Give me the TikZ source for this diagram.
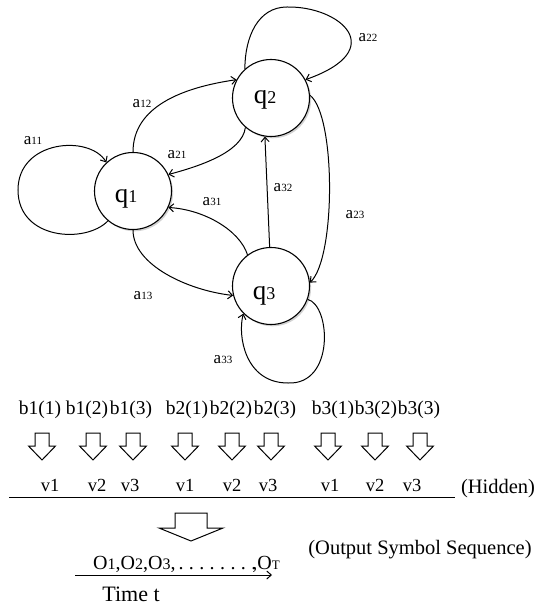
\documentclass[tikz,border=0pt]{standalone}
\usepackage{fontspec}
\setmainfont{Liberation Serif}
\usetikzlibrary{arrows.meta,shadows}
\newcommand\mysz[1]{\fontsize{#1}{#1}\selectfont}
\newcommand\alab[1]{{\mysz{17}a}{\mysz{11}#1}}
\newcommand\qlab[1]{{\mysz{27}q}{\mysz{18}#1}}
\begin{document}
\begin{tikzpicture}[x=1pt,y=-1pt,
  >={Straight Barb[length=4.5pt,width=8pt]},
  state/.style={circle,draw,line width=1.1pt,fill=white,minimum size=77pt,inner sep=0pt,
    drop shadow={shadow xshift=1.6pt,shadow yshift=-1.8pt,opacity=0.35}},
  edge/.style={->,line width=1pt},
  txt/.style={inner sep=0pt},
  blk/.style={draw,line width=1pt,line join=miter},
  downarrow/.pic={\draw[blk] (-7,0) -- (7,0) -- (7,13) -- (13.5,13) -- (0,27) -- (-13.5,13) -- (-7,13) -- cycle;}
]
\useasboundingbox (0,0) rectangle (542,612);
\fill[white] (0,0) rectangle (542,612);

% states
\node[state] (q1) at (133,191) {};
\node[state] (q2) at (271,98) {};
\node[state] (q3) at (271,286) {};
\node[txt,anchor=base] (q1t) at (126,203) {\qlab{1}};
\node[txt,anchor=base] (q2t) at (265,104) {\qlab{2}};
\node[txt,anchor=base] (q3t) at (264,299) {\qlab{3}};

% free coordinates of the loops
\coordinate (l11) at (18,190);
\coordinate (l22) at (287,7);
\coordinate (l33) at (288,383);

% transitions
\draw[edge] (q1.230) .. controls +(-22,23) and +(0,50) .. (l11) .. controls +(0,-50) and +(-17,-28) .. (q1.133);
\draw[edge] (q2.132) .. controls +(0,-32) and +(-29,0) .. (l22) .. controls +(53,-1) and +(85,-30) .. (q2.28);
\draw[edge] (q3.-20) .. controls +(23,6) and +(47,2) .. (l33) .. controls +(-43,0) and +(-6,22) .. (q3.225);
\draw[edge] (q1.90) .. controls +(0,-45) and +(-55,8) .. (q2.152);
\draw[edge] (q2.229) .. controls +(-3,25) and +(30,-8) .. (q1.25);
\draw[edge] (q3.127) .. controls +(-8,-25) and +(35,2) .. (q1.-25);
\draw[edge] (q1.270) .. controls +(0,35) and +(-45,-5) .. (q3.194);
\draw[edge] (q3.92) -- (q2.261);
\draw[edge] (q2.4) .. controls +(26,20) and +(26,-25) .. (q3.5);

% transition labels
\node[txt] (la11) at (33,141) {\alab{11}};
\node[txt] (la12) at (142,104) {\alab{12}};
\node[txt] (la21) at (177,155) {\alab{21}};
\node[txt] (la22) at (368,38) {\alab{22}};
\node[txt] (la31) at (212,202) {\alab{31}};
\node[txt] (la32) at (283,188) {\alab{32}};
\node[txt] (la13) at (143,296) {\alab{13}};
\node[txt] (la23) at (355,215) {\alab{23}};
\node[txt] (la33) at (223,360) {\alab{33}};

% emission probabilities
\begin{scope}[every node/.style={txt,font=\mysz{19.5}}]
\node (b11) at (40,410) {b1(1)};
\node (b12) at (87,410) {b1(2)};
\node (b13) at (131,410) {b1(3)};
\node (b21) at (187,410) {b2(1)};
\node (b22) at (231,410) {b2(2)};
\node (b23) at (275,410) {b2(3)};
\node (b31) at (333,410) {b3(1)};
\node (b32) at (376,410) {b3(2)};
\node (b33) at (419,410) {b3(3)};
\end{scope}

\foreach \xx in {42,93,133,185,232,271,328,375,420}{
  \pic at (\xx,433) {downarrow};
}

\begin{scope}[every node/.style={txt,font=\mysz{18.5}}]
\node (v11) at (50,485) {v1};
\node (v12) at (97,485) {v2};
\node (v13) at (130,485) {v3};
\node (v21) at (185,485) {v1};
\node (v22) at (232,485) {v2};
\node (v23) at (268,485) {v3};
\node (v31) at (330,485) {v1};
\node (v32) at (375,485) {v2};
\node (v33) at (412,485) {v3};
\end{scope}

\coordinate (hl) at (9,497);
\coordinate (hr) at (455,497);
\draw[line width=1pt] (hl) -- (hr);
\node[txt,font=\mysz{20.5}] (hid) at (498,489) {(Hidden)};

% big hollow arrow
\draw[blk] (175,513) -- (207,513) -- (207,528) -- (223,528) -- (191,541) -- (159,528) -- (175,528) -- cycle;

\node[txt,anchor=base west,font=\mysz{20}] (oseq) at (93,569)
  {O{\mysz{16}1},O{\mysz{16}2},O{\mysz{16}3},\kern3pt{\addfontfeature{LetterSpace=27}........}\kern-4pt,O{\mysz{13}T}};
\node[txt,font=\mysz{20.5}] (oss) at (420,550) {(Output Symbol Sequence)};

\coordinate (ts) at (75,575);
\coordinate (te) at (272,575);
\draw[->,line width=1pt] (ts) -- (te);
\node[txt,font=\mysz{22}] (tt) at (131,594) {Time t};
\end{tikzpicture}
\end{document}
